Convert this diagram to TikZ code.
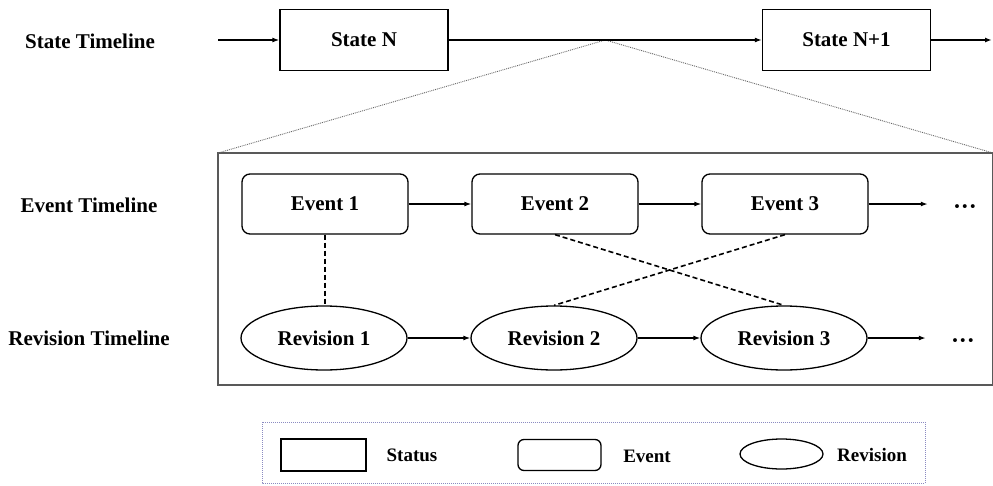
\documentclass[tikz,border=0pt]{standalone}
\usepackage{bm}
\usepackage{fontspec}
\setmainfont{Liberation Serif}
\usetikzlibrary{arrows.meta,positioning,shapes.geometric,calc}

\newcommand{\moredots}{\smash{\raisebox{-10pt}{···}}}

\begin{document}
\begin{tikzpicture}[x=1pt,y=-1pt,node distance=230pt,on grid,
    >={Latex[length=7pt,width=5pt]},
    font=\fontsize{21}{25}\selectfont\bfseries]
       \tikzstyle{status}=[draw,line width=1.3pt,minimum width=168pt,minimum height=61pt,inner sep=0pt]
       \tikzstyle{event}=[draw,rounded corners=8pt,line width=1.3pt,minimum width=166pt,minimum height=60pt,inner sep=0pt]
       \tikzstyle{revision}=[draw,ellipse,line width=1.3pt,minimum width=166pt,minimum height=64pt,inner sep=0pt]
       \tikzstyle{lane}=[inner sep=0pt]
       \tikzstyle{more}=[inner sep=0pt,inner xsep=25pt,font=\fontsize{24}{25}\selectfont\bfseries]
       \tikzstyle{link}=[line width=1.6pt,dash pattern=on 5pt off 3pt]
       \tikzstyle{key}=[font=\fontsize{19}{22}\selectfont\bfseries,inner sep=0pt]

       \useasboundingbox (0,0) rectangle (993,485);

       % state timeline
       \node[lane] (lab_s) at (90,41) {State Timeline};
       \node[status] (st_n) at (364,40) {State N};
       \node[status] (st_n1) [right=482.5pt of st_n] {State N+1};
       \coordinate (s_in) at (218,40);
       \coordinate (s_out) at (992,40);
       \coordinate (zoom) at ($(st_n.east)!0.5!(st_n1.west)$);

       % zoomed part
       \draw[gray!70!black,line width=1.3pt] (218,153) rectangle (993,385);
       \draw[gray!80!black,densely dotted,line width=0.9pt] (218,153) -- (zoom) -- (993,153);

       \node[lane] (lab_e) at (89,205) {Event Timeline};
       \node[lane] (lab_r) at (89,338) {Revision Timeline};

       \node[event] (e_1) at (325,204) {Event 1};
       \node[event] (e_2) [right=of e_1] {Event 2};
       \node[event] (e_3) [right=of e_2] {Event 3};
       \node[more] (e_more) [right=180pt of e_3] {\moredots};

       \node[revision] (r_1) at (324,338) {Revision 1};
       \node[revision] (r_2) [right=of r_1] {Revision 2};
       \node[revision] (r_3) [right=of r_2] {Revision 3};
       \node[more] (r_more) [right=179pt of r_3] {\moredots};

       \path[->,line width=1.5pt]
       (s_in) edge (st_n)
       (st_n) edge (st_n1)
       (st_n1) edge (s_out)
       (e_1) edge (e_2)
       (e_2) edge (e_3)
       (e_3) edge (e_more)
       (r_1) edge (r_2)
       (r_2) edge (r_3)
       (r_3) edge (r_more);

       \draw[link] (e_1.south) -- (e_1.south |- r_1.north);
       \draw[link] (e_2.south) -- (r_3.north);
       \draw[link] (e_3.south) -- (r_2.north);

       % legend
       \draw[blue!30!gray!70,densely dotted,line width=1pt] (262,422) rectangle (925,483);
       \node[status,minimum width=85pt,minimum height=32pt] (k_s) at (323.5,455) {};
       \node[key] (k_st) at (412,455) {Status};
       \node[event,rounded corners=6pt,minimum width=83pt,minimum height=31pt] (k_e) at (559.5,455) {};
       \node[key] (k_ev) at (647,456) {Event};
       \node[revision,minimum width=83pt,minimum height=30pt] (k_r) at (781.5,454) {};
       \node[key] (k_rv) at (872,455) {Revision};
     \end{tikzpicture}
\end{document}
